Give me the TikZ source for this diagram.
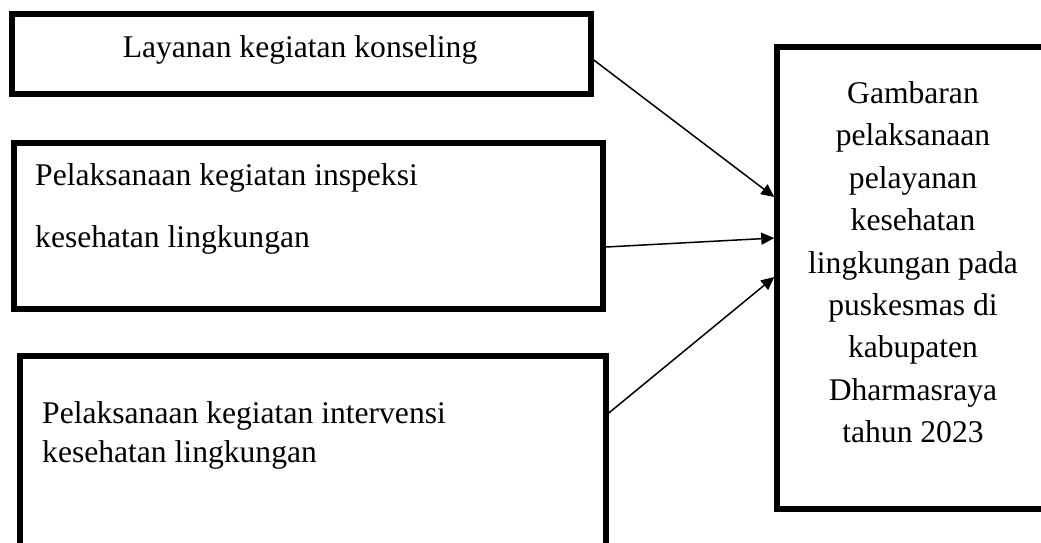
\documentclass[tikz,border=0pt]{standalone}
\usepackage{fontspec}
\setmainfont{Liberation Serif}
\usetikzlibrary{arrows.meta}
\begin{document}
\begin{tikzpicture}[x=1pt,y=-1pt,
  boxstyle/.style={draw=black, line width=5.5pt, inner sep=0pt, rectangle},
  txt/.style={inner sep=0pt, font=\fontsize{31.6}{42.4}\selectfont},
  arr/.style={line width=1.5pt, -{Triangle[length=13pt,width=12pt]}}]
\useasboundingbox (0,0) rectangle (1041,542);
\clip (0,0) rectangle (1041,542);
\fill[white] (0,0) rectangle (1041,542);
% boxes
\node[boxstyle, minimum width=579pt, minimum height=80pt] (b1) at (301.5,54) {};
\node[boxstyle, minimum width=589pt, minimum height=166pt] (b2) at (308.5,226) {};
\node[boxstyle, minimum width=586pt, minimum height=264pt] (b3) at (313,488) {};
\node[boxstyle, minimum width=272pt, minimum height=462pt] (b4) at (913,278) {};
% texts
\node[txt, anchor=base] (t1) at (300,57) {Layanan kegiatan konseling};
\node[txt, anchor=north west, align=left, font=\fontsize{31.6}{62}\selectfont] (t2) at (35,163.5)
  {Pelaksanaan kegiatan inspeksi\\kesehatan lingkungan};
\node[txt, anchor=north west, align=left, font=\fontsize{31.6}{39}\selectfont] (t3) at (42,401.5)
  {Pelaksanaan kegiatan intervensi\\kesehatan lingkungan};
\node[txt, anchor=north, align=center] (t4) at (913,81.4)
  {Gambaran\\pelaksanaan\\pelayanan\\kesehatan\\lingkungan pada\\puskesmas di\\kabupaten\\Dharmasraya\\tahun 2023};
% connectors
\draw[arr] ([yshift=-6pt]b1.east) -- ([yshift=81pt]b4.west);
\draw[arr] ([yshift=-21pt]b2.east) -- ([yshift=40pt]b4.west);
\draw[arr] ([yshift=75pt]b3.east) -- ([yshift=1pt]b4.west);
\end{tikzpicture}
\end{document}
